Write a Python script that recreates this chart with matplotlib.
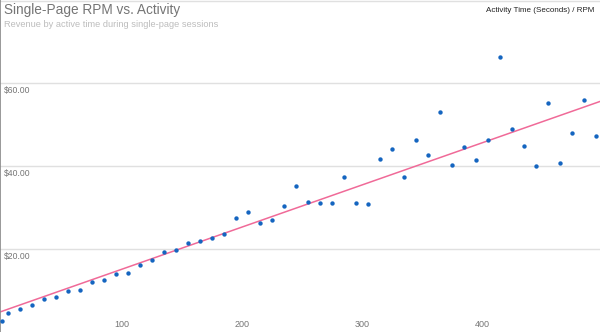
import matplotlib.pyplot as plt
import numpy as np

plt.rcParams['font.family'] = ['Liberation Sans', 'DejaVu Sans']

# activity time buckets (seconds) and revenue per mille
seconds = [0, 5, 15, 25, 35, 45, 55, 65, 75, 85, 95, 105, 115, 125, 135, 145, 155, 165,
           175, 185, 195, 205, 215, 225, 235, 245, 255, 265, 275, 285, 295, 305, 315, 325,
           335, 345, 355, 365, 375, 385, 395, 405, 415, 425, 435, 445, 455, 465, 475, 485, 495]
rpm = [2.5, 4.4, 5.5, 6.3, 7.8, 8.2, 9.8, 10.1, 11.9, 12.4, 13.8, 14.1, 16.1, 17.3, 19.1, 19.8, 21.4, 21.9,
       22.5, 23.6, 27.5, 28.8, 26.1, 26.9, 30.4, 35.2, 31.3, 31.1, 31.1, 37.3, 31.1, 30.8, 41.7, 44.0,
       37.3, 46.2, 42.7, 53.1, 40.2, 44.5, 41.4, 46.4, 66.4, 49.0, 44.8, 40.1, 55.2, 40.7, 48.1, 55.9, 47.3]
y_ticks = [20, 40, 60, 80]
x_ticks = [100, 200, 300, 400]

fig = plt.figure(figsize=(6, 3.32), dpi=100)
ax = fig.add_axes([0, 0, 1, 1])

ax.set_xlim(-1.7, 498.3)
ax.set_ylim(-0.15, 80.15)

# gridlines
for v in y_ticks:
    ax.axhline(v, color='#e0e0e0', lw=1.0, zorder=0)
    if v < 80:
        ax.text(4 / 1.2 - 1.7, v - 0.7, '$%.2f' % v, color='#757575', fontsize=6.2,
                ha='left', va='top')
for v in x_ticks:
    ax.text(v, 1.7, str(v), color='#757575', fontsize=6.5, ha='center', va='center')

# trendline (least squares)
slope, icpt = np.polyfit(seconds, rpm, 1)
xs = np.array(ax.get_xlim())
ax.plot(xs, slope * xs + icpt, color='#f06a98', lw=1.1, zorder=2)

ax.scatter(seconds, rpm, s=10, color='#1565c0', zorder=3, linewidths=0)

for s in ['top', 'right', 'bottom']:
    ax.spines[s].set_visible(False)
ax.spines['left'].set_color('#888888')
ax.spines['left'].set_linewidth(1.2)
ax.set_xticks([])
ax.set_yticks([])

fig.text(4 / 600, 1 - 3 / 332, 'Single-Page RPM vs. Activity', color='#757575', fontsize=9.8,
         ha='left', va='top')
fig.text(4 / 600, 1 - 20 / 332, 'Revenue by active time during single-page sessions',
         color='#bdbdbd', fontsize=6.7, ha='left', va='top')
fig.text(594 / 600, 1 - 7 / 332, 'Activity Time (Seconds) / RPM', color='#222222', fontsize=5.8,
         ha='right', va='top')

fig.savefig('out.png', dpi=100)
